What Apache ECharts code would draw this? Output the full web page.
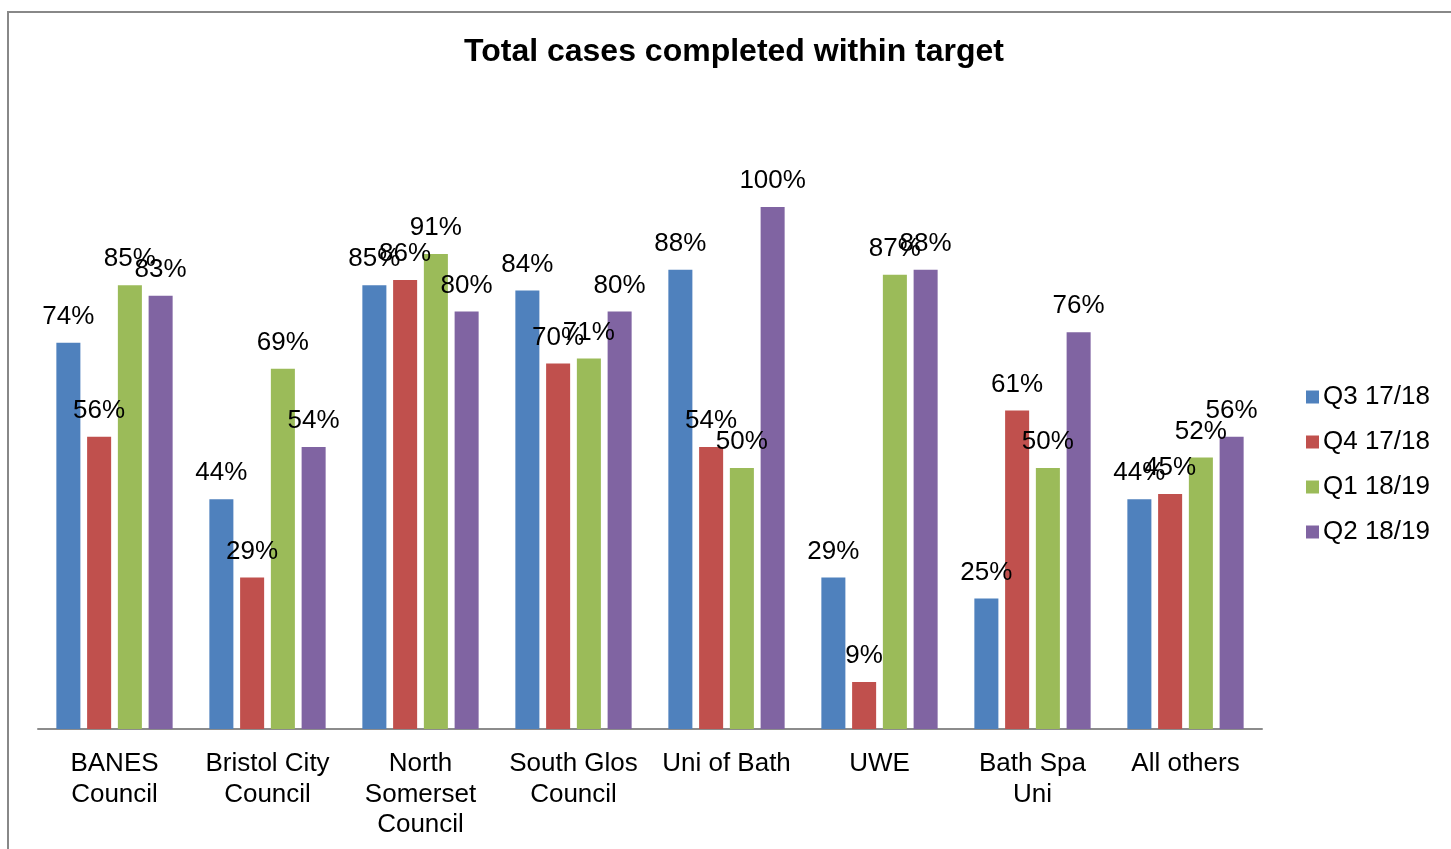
<!DOCTYPE html>
<html>
<head>
<meta charset="utf-8">
<title>Total cases completed within target</title>
<script src="https://cdn.jsdelivr.net/npm/echarts@6/dist/echarts.min.js"></script>
<style>
  html, body { margin: 0; padding: 0; background: #fff; }
  #chart { width: 1451px; height: 849px; }
</style>
</head>
<body>
<div id="chart"></div>
<script>
  // categories and quarterly values (% completed within target)
  const categories = [
    'BANES\nCouncil',
    'Bristol City\nCouncil',
    'North\nSomerset\nCouncil',
    'South Glos\nCouncil',
    'Uni of Bath',
    'UWE',
    'Bath Spa\nUni',
    'All others',
  ];
  const q3_1718 = [74, 44, 85, 84, 88, 29, 25, 44];
  const q4_1718 = [56, 29, 86, 70, 54, 9, 61, 45];
  const q1_1819 = [85, 69, 91, 71, 50, 87, 50, 52];
  const q2_1819 = [83, 54, 80, 80, 100, 88, 76, 56];

  const seriesNames = ['Q3 17/18', 'Q4 17/18', 'Q1 18/19', 'Q2 18/19'];
  const seriesData = [q3_1718, q4_1718, q1_1819, q2_1819];
  const colors = ['#4F81BD', '#C0504D', '#9BBB59', '#8064A2'];

  const font = '"Liberation Sans", Arial, sans-serif';

  const myChart = echarts.init(document.getElementById('chart'));

  myChart.setOption({
    animation: false,
    textStyle: { fontFamily: font },
    title: {
      text: 'Total cases completed within target',
      left: 729,
      top: 31,
      textAlign: 'center',
      textStyle: {
        fontFamily: font,
        fontSize: 32,
        fontWeight: 'bold',
        color: '#000',
      },
    },
    graphic: [
      {
        type: 'rect',
        shape: { x: 8, y: 12, width: 1470, height: 900 },
        style: { fill: 'none', stroke: '#888888', lineWidth: 2 },
        silent: true,
      },
    ],
    legend: {
      orient: 'vertical',
      left: 1301,
      top: 379,
      icon: 'rect',
      itemWidth: 13,
      itemHeight: 13,
      itemGap: 19,
      textStyle: {
        fontFamily: font,
        fontSize: 26,
        color: '#000',
        lineHeight: 26,
        padding: [0, 0, 0, -1],
      },
      data: seriesNames,
    },
    grid: {
      left: 38,
      right: 189,
      top: 207,
      bottom: 120,
    },
    xAxis: {
      type: 'category',
      data: categories,
      axisLine: {
        lineStyle: { color: '#8C8C8C', width: 2 },
      },
      axisTick: { show: false },
      axisLabel: {
        interval: 0,
        margin: 20,
        fontFamily: font,
        fontSize: 26,
        lineHeight: 30.5,
        color: '#000',
        align: 'center',
      },
    },
    yAxis: {
      type: 'value',
      min: 0,
      max: 100,
      show: false,
      splitLine: { show: false },
    },
    series: seriesNames.map((name, i) => ({
      name,
      type: 'bar',
      data: seriesData[i],
      barGap: '28%',
      barCategoryGap: '24%',
      itemStyle: { color: colors[i] },
      label: {
        show: true,
        position: 'top',
        distance: 13,
        formatter: '{c}%',
        fontFamily: font,
        fontSize: 26,
        color: '#000',
      },
    })),
  });
</script>
</body>
</html>
